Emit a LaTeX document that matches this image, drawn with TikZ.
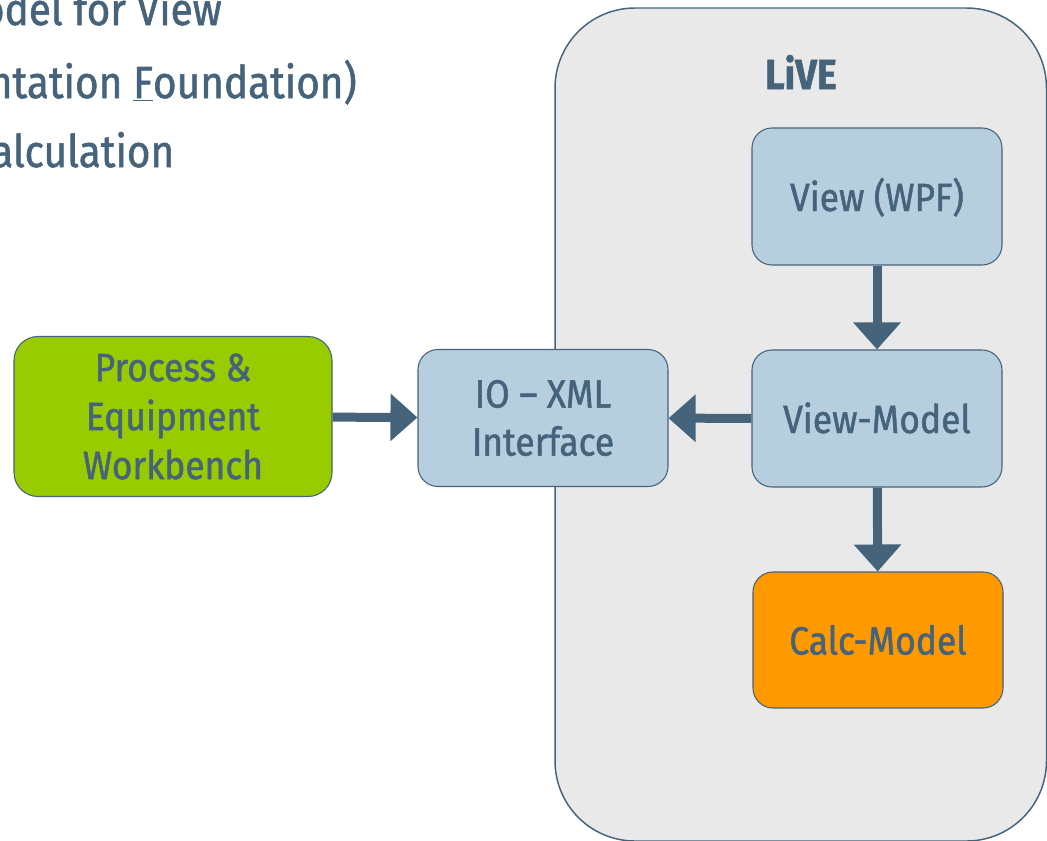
\documentclass[tikz,border=0pt]{standalone}
\usepackage{fontspec}
\setmainfont{Fira Sans}[FakeStretch=0.9, FakeBold=1.2]
\usetikzlibrary{arrows.meta}
\definecolor{dk}{HTML}{46637C}
\definecolor{lblue}{HTML}{B7CEDF}
\definecolor{pgreen}{HTML}{99CC00}
\definecolor{porange}{HTML}{FF9900}
\definecolor{cgray}{HTML}{E9E9E9}
\begin{document}
\begin{tikzpicture}[x=0.75pt,y=-0.75pt,
  box/.style={draw=dk, line width=0.8pt, rounded corners=15pt, minimum width=187.5pt,
    minimum height=102.75pt, inner sep=0pt, text=dk, align=center,
    font=\fontsize{29.5}{36.75}\selectfont},
  arr/.style={draw=dk, line width=6.75pt, -{Triangle[width=34.5pt,length=20.25pt]}},
  toptext/.style={inner sep=0pt, text=dk, font=\fontsize{33.75}{40}\selectfont}]
\useasboundingbox (0,0) rectangle (1047,840);
% top-left (cut off) text
\node[toptext, anchor=base east] (t1) at (222,25) {odel for View};
\node[toptext, anchor=base east] (t2) at (357,98) {ntation \underline{F}oundation)};
\node[toptext, anchor=base west] (t3) at (-9,167) {alculation};
% container
\node[draw=dk, line width=1.1pt, fill=cgray, rounded corners=60pt, minimum width=368.6pt,
  minimum height=624.75pt, inner sep=0pt] (live) at (800.75,424.5) {};
\node[anchor=base, inner sep=0pt, text=dk, font=\bfseries\fontsize{31.5}{36}\selectfont] (livet) at (801,89) {LiVE};
% boxes
\node[box, fill=pgreen, minimum width=238.5pt, minimum height=120pt, rounded corners=18pt] (pew) at (173,416.5) {Process \&\\Equipment\\Workbench};
\node[box, fill=lblue, text height=21.75pt, text depth=0pt] (view) at (877,196.5) {View (WPF)};
\node[box, fill=lblue, text height=21.75pt, text depth=0pt] (vm) at (877,418.5) {View-Model};
\node[box, fill=porange, minimum height=102pt, text height=21.75pt, text depth=0pt] (calc) at (878,640) {Calc-Model};
\node[box, fill=lblue, font=\fontsize{29.5}{36}\selectfont] (io) at (543,418) {IO – XML\\Interface};
% connectors
\draw[arr] (pew) -- (io);
\draw[arr] (vm) -- (io);
\draw[arr] (view) -- (vm);
\draw[arr] (vm) -- (calc);
\end{tikzpicture}
\end{document}
